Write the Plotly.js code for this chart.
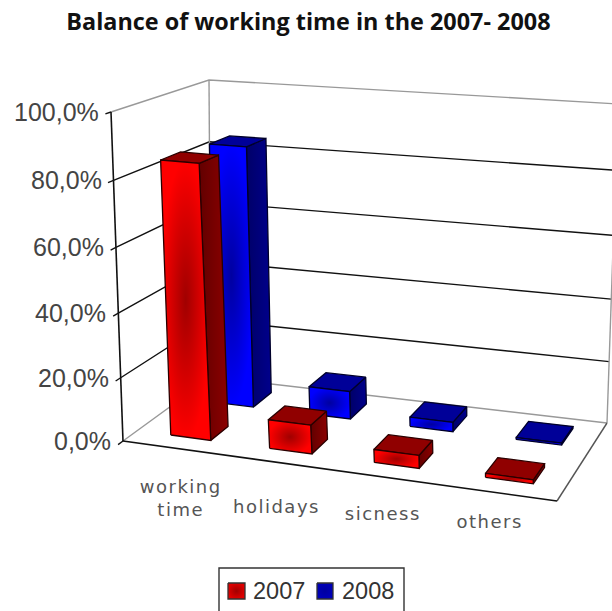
<!DOCTYPE html>
<html>
<head>
<meta charset="utf-8">
<script src="https://cdn.plot.ly/plotly-3.0.1.min.js"></script>
<style>html,body{margin:0;padding:0;background:#fff;overflow:hidden}</style>
</head>
<body>
<div id="chart" style="width:612px;height:611px"></div>
<script>
// Chart values, in percent
const categories = ['working<br>time', 'holidays', 'sicness', 'others'];
const values2007 = [85, 9, 4, 1.2];
const values2008 = [84, 9, 3, 0.6];
const seriesNames = ['2007', '2008'];
const tickValues = [0, 20, 40, 60, 80, 100];
const tickLabels = ['0,0%', '20,0%', '40,0%', '60,0%', '80,0%', '100,0%'];

// Corners of the 3D box on screen: floor and ceiling, as front-left, front-right, back-right, back-left
const floorQuad = [[123, 441], [557, 501], [607, 423], [211, 377]];
const ceilQuad = [[111, 112], [566, 149], [618, 104], [209, 80]];

function squareToQuad(q) {
  const [p0, p1, p2, p3] = q;
  const dx1 = p1[0] - p2[0], dx2 = p3[0] - p2[0], sx = p0[0] - p1[0] + p2[0] - p3[0];
  const dy1 = p1[1] - p2[1], dy2 = p3[1] - p2[1], sy = p0[1] - p1[1] + p2[1] - p3[1];
  const den = dx1 * dy2 - dx2 * dy1;
  const g = (sx * dy2 - dx2 * sy) / den, h = (dx1 * sy - sx * dy1) / den;
  const a = p1[0] - p0[0] + g * p1[0], b = p3[0] - p0[0] + h * p3[0];
  const d = p1[1] - p0[1] + g * p1[1], e = p3[1] - p0[1] + h * p3[1];
  return (u, w) => {
    const m = g * u + h * w + 1;
    return [(a * u + b * w + p0[0]) / m, (d * u + e * w + p0[1]) / m];
  };
}
const floorMap = squareToQuad(floorQuad);
const ceilMap = squareToQuad(ceilQuad);

// u: along the categories, w: depth, val: percent
function project(u, w, val) {
  const v = val / 100;
  const s = v / (v + (1 - v) * 1.05);
  const f = floorMap(u, w), c = ceilMap(u, w);
  return [f[0] + (c[0] - f[0]) * s, f[1] + (c[1] - f[1]) * s];
}

const traces = [];
function addPath(pts, color, width, extra) {
  traces.push(Object.assign({
    type: 'scatter', mode: 'lines',
    x: pts.map(p => p[0]), y: pts.map(p => p[1]),
    line: {color: color, width: width},
    hoverinfo: 'skip', showlegend: false
  }, extra || {}));
}
function addFace(pts, outline, fill) {
  const closed = pts.concat([pts[0]]);
  addPath(closed, outline, 1.3, Object.assign({fill: 'toself'}, fill));
}

// Walls, gridlines and floor
tickValues.forEach(t => {
  const grey = t === 0 || t === 100;
  const col = grey ? '#999' : '#111';
  addPath([project(0, 0, t), project(0, 1, t), project(1, 1, t)], col, 1.4);
  addPath([project(0, -0.05, t), project(0, 0, t)], '#111', 1.4);
});
addPath([project(0, 1, 0), project(0, 1, 100)], '#999', 1.4);
addPath([project(1, 1, 0), project(1, 1, 100)], '#999', 1.4);
addPath([project(1, 0, 0), project(1, 1, 0)], '#555', 1.4);
addPath([project(0, 0, 0), project(1, 0, 0)], '#111', 1.6);
addPath([project(0, 0, 0), project(0, 0, 100)], '#111', 1.6);

const styleBySeries = [
  {outline: '#2a0000', front: ['#a00000', '#ff0000'], side: ['#620000', '#8c0000'], top: '#900000'},
  {outline: '#00002a', front: ['#0000a0', '#0000ff'], side: ['#000068', '#00008c'], top: '#000098'}
];
const depthBySeries = [[0.15, 0.35], [0.645, 0.875]];
const offsetBySeries = [0.014, 0.017];
const barWidth = 0.102;

function addBar(i, series, value) {
  const st = styleBySeries[series];
  const [w0, w1] = depthBySeries[series];
  const uc = (i + 0.5) / categories.length * 0.992 + offsetBySeries[series];
  const u0 = uc - barWidth / 2, u1 = uc + barWidth / 2;
  addFace([project(u1, w0, 0), project(u1, w1, 0), project(u1, w1, value), project(u1, w0, value)], st.outline,
    {fillgradient: {type: 'horizontal', colorscale: [[0, st.side[0]], [1, st.side[1]]]}});
  addFace([project(u0, w0, value), project(u1, w0, value), project(u1, w1, value), project(u0, w1, value)], st.outline,
    {fillcolor: st.top});
  addFace([project(u0, w0, 0), project(u1, w0, 0), project(u1, w0, value), project(u0, w0, value)], st.outline,
    {fillgradient: {type: 'radial', colorscale: [[0, st.front[0]], [1, st.front[1]]]}});
}
values2008.forEach((v, i) => addBar(i, 1, v));
values2007.forEach((v, i) => addBar(i, 0, v));

// Legend swatches
const swatches = [[228, 245], [317, 333]];
swatches.forEach((s, k) => {
  const st = styleBySeries[k];
  addFace([[s[0], 583], [s[1], 583], [s[1], 599], [s[0], 599]], '#333',
    {fillgradient: {type: 'radial', colorscale: [[0, st.front[0]], [1, k ? '#0000b8' : '#e00000']]}});
});

const annotations = [];
function addText(text, x, y, size, family, color, anchor) {
  annotations.push({
    text: text, x: x, y: y, xref: 'x', yref: 'y', showarrow: false,
    xanchor: anchor || 'center', yanchor: 'middle', align: 'center',
    font: {size: size, family: family, color: color}
  });
}
tickValues.forEach((t, k) => {
  const p = project(0, 0, t);
  addText(tickLabels[k], p[0] - 10, p[1], 25, 'Liberation Sans', '#444', 'right');
});
const categoryAnchors = [[180, 498], [276, 506], [383, 513], [489, 521]];
categories.forEach((c, i) => {
  addText(c, categoryAnchors[i][0], categoryAnchors[i][1], 18, 'DejaVu Sans', '#555');
});
addText(seriesNames[0], 279, 591, 23.5, 'Liberation Sans', '#333');
addText(seriesNames[1], 368, 591, 23.5, 'Liberation Sans', '#333');

const layout = {
  width: 612, height: 611,
  margin: {l: 0, r: 0, t: 0, b: 0},
  paper_bgcolor: '#fff', plot_bgcolor: '#fff',
  showlegend: false,
  xaxis: {range: [0, 612], visible: false, fixedrange: true},
  yaxis: {range: [611, 0], visible: false, fixedrange: true},
  title: {text: '<b>Balance of working time in the 2007- 2008</b>', x: 0.504, xanchor: 'center', y: 0.964, yanchor: 'middle',
    font: {family: 'Open Sans', size: 23.4, color: '#111'}},
  annotations: annotations,
  shapes: [{type: 'path', path: 'M219,612 L219,568 L404,568 L404,612', line: {color: '#333', width: 1.4}, xref: 'x', yref: 'y'}]
};
Plotly.newPlot('chart', traces, layout, {displayModeBar: false, responsive: false}).then(() => {
  // Open up the spacing of the category captions
  document.querySelectorAll('.annotation-text').forEach(el => {
    if (categories.includes(el.getAttribute('data-unformatted'))) el.style.letterSpacing = '1.5px';
  });
});
</script>
</body>
</html>
